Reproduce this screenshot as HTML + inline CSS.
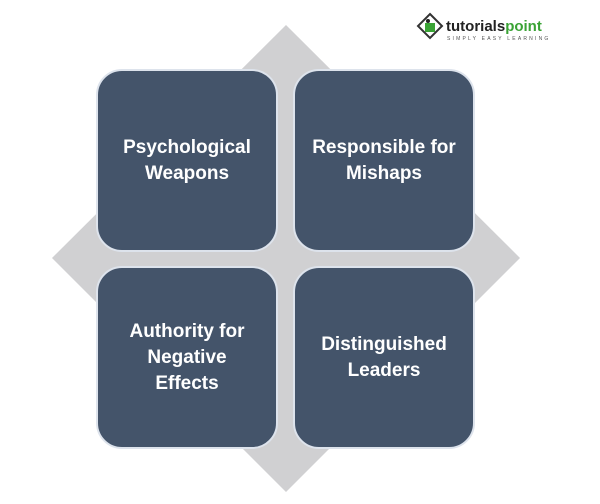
<!DOCTYPE html>
<html><head><style>
body{margin:0;width:600px;height:504px;background:#fff;position:relative;overflow:hidden;font-family:"Liberation Sans",sans-serif}
.b{position:absolute;width:178px;height:179px;background:#44546a;border:2px solid #dde3ec;border-radius:26px;display:flex;align-items:center;justify-content:center;text-align:center;color:#fff;font-weight:bold;font-size:19px;line-height:26px}
</style></head><body>
<svg width="600" height="504" style="position:absolute;left:0;top:0">
<polygon points="286,25 520,258 286,492 52,258" fill="#d0d0d2"/>
<g transform="translate(418,14)">
<polygon points="12,0 24,12 12,24 0,12" fill="#fff" stroke="#333" stroke-width="2"/>
<rect x="7" y="9" width="10" height="9" fill="#3aa335"/>
<circle cx="10" cy="7" r="2" fill="#222"/>
</g>
<text x="446" y="31" font-family="Liberation Sans" font-weight="bold" font-size="15" fill="#222">tutorials<tspan fill="#3aa335">point</tspan></text>
<text x="447" y="40" font-family="Liberation Sans" font-size="5" letter-spacing="2.2" fill="#555">SIMPLY EASY LEARNING</text>
</svg>
<div class="b" style="left:96px;top:69px">Psychological<br>Weapons</div>
<div class="b" style="left:293px;top:69px">Responsible for<br>Mishaps</div>
<div class="b" style="left:96px;top:266px">Authority for<br>Negative<br>Effects</div>
<div class="b" style="left:293px;top:266px">Distinguished<br>Leaders</div>
</body></html>
